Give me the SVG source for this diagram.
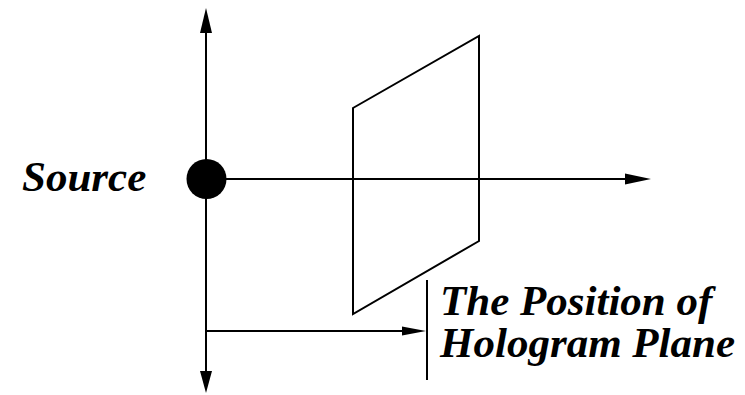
<svg xmlns="http://www.w3.org/2000/svg" width="745" height="395" viewBox="0 0 745 395">
<style>
.ln{stroke:#000;stroke-width:2;fill:none}
.ah{fill:#000;stroke:none}
.lbl{font-family:"Liberation Serif","Times New Roman",serif;font-weight:bold;font-style:italic;font-size:43px;fill:#000}
</style>
<rect width="745" height="395" fill="#fff"/>
<g id="connectors">
<line class="ln" x1="206" y1="25" x2="206" y2="380"/>
<polygon class="ah" points="206,8 200,33 212,33"/>
<polygon class="ah" points="206,393 200,371 212,371"/>
<line class="ln" x1="206" y1="179" x2="630" y2="179"/>
<polygon class="ah" points="651,179 625,173.5 625,184.5"/>
<line class="ln" x1="206" y1="331" x2="406" y2="331"/>
<polygon class="ah" points="426,331 402,326.5 402,335.5"/>
</g>
<g id="source">
<circle cx="206.5" cy="179" r="20" fill="#000"/>
<text class="lbl" x="22" y="191">Source</text>
</g>
<g id="hologram-plane">
<polygon class="ln" points="353,108 479,36 479,241 353,314"/>
</g>
<g id="position-label">
<line class="ln" x1="427" y1="280" x2="427" y2="380"/>
<text class="lbl"><tspan x="440" y="315">The Position of</tspan><tspan x="440" y="357">Hologram Plane</tspan></text>
</g>
</svg>
